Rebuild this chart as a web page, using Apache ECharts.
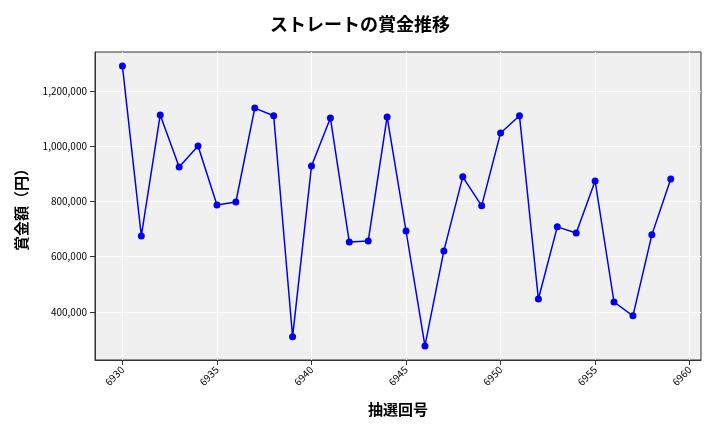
<!DOCTYPE html>
<html><head><meta charset="utf-8">
<script src="https://cdn.jsdelivr.net/npm/echarts@6/dist/echarts.min.js"></script>
<style>body{margin:0}#c{width:720px;height:432px}</style></head>
<body><div id="c"></div>
<script>
let draws = [6930,6931,6932,6933,6934,6935,6936,6937,6938,6939,6940,6941,6942,6943,6944,6945,6946,6947,6948,6949,6950,6951,6952,6953,6954,6955,6956,6957,6958,6959];
let prizes = [1290000,675000,1113000,925000,1001000,787000,798000,1138000,1110000,310000,928000,1102000,653000,657000,1106000,693000,277000,621000,889000,784000,1048000,1110000,447000,708000,686000,874000,436000,386000,679000,881000];
let xTicks = [6930,6935,6940,6945,6950,6955,6960];
let yTicks = [400000,600000,800000,1000000,1200000];
let font = "'Noto Sans CJK JP', sans-serif";
let chart = echarts.init(document.getElementById('c'));
chart.setOption({
  animation: false,
  title: {text: 'ストレートの賞金推移', left: 'center', top: 10,
    textStyle: {fontFamily: font, fontSize: 18, fontWeight: 'bold', color: '#000'}},
  grid: {left: 95, right: 19, top: 52, bottom: 72, backgroundColor: '#f0f0f0', show: true, borderWidth: 1, borderColor: '#333'},
  xAxis: {
    type: 'value', min: 6928.55, max: 6960.6,
    name: '抽選回号', nameLocation: 'middle', nameGap: 42,
    nameTextStyle: {fontFamily: font, fontSize: 15, fontWeight: 'bold', color: '#000'},
    axisLine: {lineStyle: {color: '#333'}},
    axisTick: {customValues: xTicks, lineStyle: {color: '#333'}},
    axisLabel: {customValues: xTicks, rotate: 45, fontSize: 10, color: '#000', fontFamily: font,
      formatter: v => String(v)},
    splitLine: {show: true, lineStyle: {color: '#fff', width: 1}}
  },
  yAxis: {
    type: 'value', min: 226000, max: 1341000,
    name: '賞金額（円）', nameLocation: 'middle', nameGap: 66,
    nameTextStyle: {fontFamily: font, fontSize: 15, fontWeight: 'bold', color: '#000'},
    axisLine: {show: true, lineStyle: {color: '#333'}},
    axisTick: {show: true, customValues: yTicks, lineStyle: {color: '#333'}},
    axisLabel: {customValues: yTicks, fontSize: 10, color: '#000', fontFamily: font,
      formatter: v => v.toLocaleString('en-US')},
    splitLine: {show: true, lineStyle: {color: '#fff', width: 1}}
  },
  series: [{
    type: 'line', data: draws.map((d, i) => [d, prizes[i]]),
    symbol: 'circle', symbolSize: 7,
    lineStyle: {color: '#0000ee', width: 1.5},
    itemStyle: {color: '#0000ee'}
  }]
});
</script></body></html>
